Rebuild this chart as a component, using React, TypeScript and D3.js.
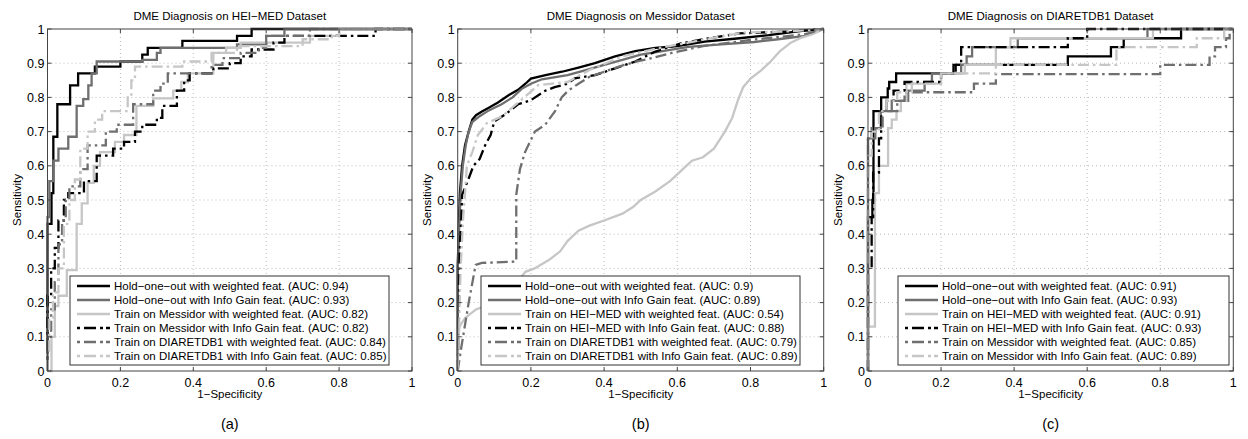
import React from "react";
import * as d3 from "d3";

// ---------- data ----------
const titles = [
  "DME Diagnosis on HEI\u2212MED Dataset",
  "DME Diagnosis on Messidor Dataset",
  "DME Diagnosis on DIARETDB1 Dataset",
];
const panelTags = ["(a)", "(b)", "(c)"];
const xTicks = [0, 0.2, 0.4, 0.6, 0.8, 1];
const yTicks = [0, 0.1, 0.2, 0.3, 0.4, 0.5, 0.6, 0.7, 0.8, 0.9, 1];

const legendA = [
  "Hold\u2212one\u2212out with weighted feat. (AUC: 0.94)",
  "Hold\u2212one\u2212out with Info Gain feat. (AUC: 0.93)",
  "Train on Messidor with weighted feat. (AUC: 0.82)",
  "Train on Messidor with Info Gain feat. (AUC: 0.82)",
  "Train on DIARETDB1 with weighted feat. (AUC: 0.84)",
  "Train on DIARETDB1 with Info Gain feat. (AUC: 0.85)",
];
const legendB = [
  "Hold\u2212one\u2212out with weighted feat. (AUC: 0.9)",
  "Hold\u2212one\u2212out with Info Gain feat. (AUC: 0.89)",
  "Train on HEI\u2212MED with weighted feat. (AUC: 0.54)",
  "Train on HEI\u2212MED with Info Gain feat. (AUC: 0.88)",
  "Train on DIARETDB1 with weighted feat. (AUC: 0.79)",
  "Train on DIARETDB1 with Info Gain feat. (AUC: 0.89)",
];
const legendC = [
  "Hold\u2212one\u2212out with weighted feat. (AUC: 0.91)",
  "Hold\u2212one\u2212out with Info Gain feat. (AUC: 0.93)",
  "Train on HEI\u2212MED with weighted feat. (AUC: 0.91)",
  "Train on HEI\u2212MED with Info Gain feat. (AUC: 0.93)",
  "Train on Messidor with weighted feat. (AUC: 0.85)",
  "Train on Messidor with Info Gain feat. (AUC: 0.89)",
];

// Panel (a): HEI-MED
const aHoldWeighted = [[0,0],[0,0.43],[0.011,0.43],[0.011,0.52],[0.016,0.52],[0.016,0.685],[0.027,0.685],[0.027,0.78],[0.062,0.78],[0.062,0.835],[0.084,0.835],[0.084,0.87],[0.13,0.87],[0.13,0.89],[0.2,0.89],[0.2,0.905],[0.26,0.905],[0.26,0.925],[0.275,0.925],[0.275,0.945],[0.37,0.945],[0.37,0.965],[0.52,0.965],[0.52,0.98],[0.56,0.98],[0.56,1],[1,1]];
const aHoldInfo = [[0,0],[0,0.45],[0.005,0.45],[0.005,0.555],[0.016,0.555],[0.016,0.615],[0.03,0.615],[0.03,0.65],[0.057,0.65],[0.057,0.685],[0.08,0.685],[0.08,0.775],[0.098,0.775],[0.098,0.795],[0.112,0.795],[0.112,0.835],[0.121,0.835],[0.121,0.87],[0.135,0.87],[0.135,0.905],[0.26,0.905],[0.26,0.91],[0.3,0.91],[0.3,0.93],[0.31,0.93],[0.31,0.945],[0.52,0.945],[0.52,0.955],[0.6,0.955],[0.6,0.98],[0.65,0.98],[0.65,1],[1,1]];
const aOtherWeighted = [[0,0],[0.011,0],[0.011,0.1],[0.02,0.1],[0.02,0.19],[0.03,0.19],[0.03,0.22],[0.053,0.22],[0.053,0.295],[0.08,0.295],[0.08,0.43],[0.094,0.43],[0.094,0.49],[0.11,0.49],[0.11,0.55],[0.127,0.55],[0.127,0.6],[0.144,0.6],[0.144,0.64],[0.185,0.64],[0.185,0.67],[0.21,0.67],[0.21,0.69],[0.244,0.69],[0.244,0.775],[0.29,0.775],[0.29,0.797],[0.345,0.797],[0.345,0.82],[0.367,0.82],[0.367,0.845],[0.385,0.845],[0.385,0.87],[0.455,0.87],[0.455,0.93],[0.49,0.93],[0.49,0.945],[0.53,0.945],[0.53,0.96],[0.72,0.96],[0.72,0.98],[0.8,0.98],[0.8,1],[1,1]];
const aOtherInfo = [[0,0],[0,0.22],[0.01,0.22],[0.01,0.3],[0.02,0.3],[0.02,0.36],[0.03,0.36],[0.03,0.44],[0.045,0.44],[0.045,0.5],[0.057,0.5],[0.057,0.52],[0.1,0.52],[0.1,0.555],[0.135,0.555],[0.135,0.63],[0.18,0.63],[0.18,0.65],[0.21,0.65],[0.21,0.67],[0.24,0.67],[0.24,0.7],[0.26,0.7],[0.26,0.72],[0.3,0.72],[0.3,0.74],[0.315,0.74],[0.315,0.775],[0.355,0.775],[0.355,0.82],[0.375,0.82],[0.375,0.85],[0.39,0.85],[0.39,0.87],[0.455,0.87],[0.455,0.885],[0.5,0.885],[0.5,0.9],[0.53,0.9],[0.53,0.92],[0.56,0.92],[0.56,0.94],[0.62,0.94],[0.62,0.96],[0.65,0.96],[0.65,0.98],[0.9,0.98],[0.9,1],[1,1]];
const aThirdWeighted = [[0,0],[0,0.1],[0.01,0.1],[0.01,0.18],[0.02,0.18],[0.02,0.26],[0.03,0.26],[0.03,0.37],[0.04,0.37],[0.04,0.44],[0.05,0.44],[0.05,0.5],[0.06,0.5],[0.06,0.54],[0.09,0.54],[0.09,0.59],[0.11,0.59],[0.11,0.66],[0.16,0.66],[0.16,0.7],[0.19,0.7],[0.19,0.72],[0.235,0.72],[0.235,0.78],[0.29,0.78],[0.29,0.82],[0.31,0.82],[0.31,0.84],[0.33,0.84],[0.33,0.87],[0.45,0.87],[0.45,0.895],[0.48,0.895],[0.48,0.915],[0.53,0.915],[0.53,0.93],[0.58,0.93],[0.58,0.945],[0.6,0.945],[0.6,0.98],[0.72,0.98],[0.72,1],[1,1]];
const aThirdInfo = [[0,0],[0,0.06],[0.005,0.06],[0.005,0.15],[0.015,0.15],[0.015,0.23],[0.03,0.23],[0.03,0.3],[0.045,0.3],[0.045,0.43],[0.06,0.43],[0.06,0.5],[0.075,0.5],[0.075,0.56],[0.09,0.56],[0.09,0.65],[0.11,0.65],[0.11,0.7],[0.13,0.7],[0.13,0.735],[0.15,0.735],[0.15,0.76],[0.22,0.76],[0.22,0.8],[0.23,0.8],[0.23,0.85],[0.24,0.85],[0.24,0.89],[0.37,0.89],[0.37,0.905],[0.45,0.905],[0.45,0.93],[0.52,0.93],[0.52,0.95],[0.7,0.95],[0.7,0.97],[0.78,0.97],[0.78,0.98],[0.8,0.98],[0.8,1],[1,1]];

// Panel (b): Messidor
const bHoldWeighted = [[0,0],[0,0.3],[0.003,0.42],[0.006,0.52],[0.012,0.6],[0.02,0.66],[0.03,0.7],[0.04,0.735],[0.05,0.748],[0.065,0.758],[0.085,0.77],[0.11,0.785],[0.14,0.807],[0.165,0.822],[0.185,0.84],[0.2,0.855],[0.24,0.865],[0.285,0.875],[0.33,0.887],[0.375,0.9],[0.43,0.92],[0.485,0.935],[0.54,0.945],[0.6,0.95],[0.675,0.963],[0.77,0.973],[0.85,0.982],[0.935,0.994],[1,1]];
const bHoldInfo = [[0,0],[0,0.3],[0.004,0.42],[0.008,0.52],[0.014,0.6],[0.022,0.66],[0.03,0.7],[0.04,0.728],[0.06,0.745],[0.085,0.762],[0.12,0.78],[0.15,0.8],[0.175,0.825],[0.2,0.84],[0.23,0.853],[0.3,0.865],[0.35,0.88],[0.4,0.895],[0.45,0.91],[0.5,0.925],[0.56,0.935],[0.63,0.948],[0.72,0.955],[0.81,0.962],[0.875,0.97],[0.95,0.98],[1,1]];
const bOtherWeighted = [[0,0],[0.002,0.1],[0.005,0.13],[0.02,0.155],[0.05,0.18],[0.1,0.2],[0.14,0.235],[0.17,0.27],[0.185,0.29],[0.21,0.3],[0.25,0.325],[0.28,0.35],[0.3,0.38],[0.33,0.41],[0.36,0.425],[0.4,0.44],[0.45,0.46],[0.48,0.48],[0.5,0.5],[0.54,0.525],[0.58,0.555],[0.61,0.585],[0.64,0.615],[0.67,0.625],[0.7,0.65],[0.73,0.7],[0.75,0.74],[0.765,0.79],[0.78,0.83],[0.8,0.855],[0.83,0.88],[0.855,0.905],[0.88,0.935],[0.91,0.96],[0.94,0.975],[0.97,0.985],[1,1]];
const bOtherInfo = [[0,0],[0.002,0.1],[0.005,0.35],[0.01,0.45],[0.012,0.515],[0.03,0.563],[0.043,0.6],[0.06,0.62],[0.075,0.66],[0.09,0.69],[0.1,0.73],[0.13,0.75],[0.165,0.78],[0.2,0.792],[0.24,0.82],[0.265,0.83],[0.3,0.84],[0.32,0.856],[0.375,0.865],[0.43,0.885],[0.485,0.905],[0.54,0.934],[0.61,0.958],[0.685,0.973],[0.77,0.987],[0.9,0.993],[1,1]];
const bThirdWeighted = [[0,0],[0.01,0.07],[0.03,0.2],[0.049,0.31],[0.066,0.316],[0.16,0.32],[0.16,0.515],[0.17,0.59],[0.184,0.64],[0.211,0.7],[0.239,0.72],[0.266,0.76],[0.284,0.8],[0.302,0.82],[0.33,0.84],[0.36,0.86],[0.4,0.875],[0.455,0.895],[0.49,0.905],[0.53,0.915],[0.585,0.93],[0.67,0.95],[0.8,0.968],[0.95,0.985],[1,1]];
const bThirdInfo = [[0,0],[0.003,0.1],[0.008,0.3],[0.015,0.45],[0.02,0.52],[0.025,0.6],[0.04,0.64],[0.055,0.69],[0.08,0.725],[0.12,0.744],[0.16,0.78],[0.2,0.817],[0.22,0.836],[0.3,0.845],[0.36,0.88],[0.45,0.92],[0.54,0.942],[0.63,0.96],[0.7,0.975],[0.785,0.99],[0.9,0.993],[1,1]];

// Panel (c): DIARETDB1
const cHoldWeighted = [[0,0],[0,0.45],[0.012,0.45],[0.012,0.5],[0.015,0.5],[0.015,0.76],[0.036,0.76],[0.036,0.8],[0.054,0.8],[0.054,0.826],[0.058,0.826],[0.058,0.845],[0.077,0.845],[0.077,0.87],[0.234,0.87],[0.234,0.895],[0.547,0.895],[0.547,0.92],[0.665,0.92],[0.665,0.947],[0.7,0.947],[0.7,0.973],[0.857,0.973],[0.857,1],[1,1]];
const cHoldInfo = [[0,0],[0,0.68],[0.02,0.68],[0.02,0.71],[0.035,0.71],[0.035,0.76],[0.065,0.76],[0.065,0.79],[0.11,0.79],[0.11,0.82],[0.155,0.82],[0.155,0.845],[0.175,0.845],[0.175,0.87],[0.255,0.87],[0.255,0.895],[0.27,0.895],[0.27,0.92],[0.285,0.92],[0.285,0.947],[0.41,0.947],[0.41,0.973],[0.765,0.973],[0.765,1],[1,1]];
const cOtherWeighted = [[0,0],[0,0.13],[0.019,0.13],[0.019,0.52],[0.03,0.52],[0.03,0.6],[0.055,0.6],[0.055,0.71],[0.065,0.71],[0.065,0.735],[0.078,0.735],[0.078,0.76],[0.09,0.76],[0.09,0.79],[0.105,0.79],[0.105,0.84],[0.2,0.84],[0.2,0.87],[0.265,0.87],[0.265,0.895],[0.35,0.895],[0.35,0.947],[0.39,0.947],[0.39,0.973],[0.78,0.973],[0.78,1],[1,1]];
const cOtherInfo = [[0,0],[0,0.3],[0.01,0.3],[0.01,0.45],[0.014,0.45],[0.014,0.58],[0.03,0.58],[0.03,0.68],[0.036,0.68],[0.036,0.76],[0.05,0.76],[0.05,0.79],[0.07,0.79],[0.07,0.82],[0.1,0.82],[0.1,0.845],[0.2,0.845],[0.2,0.87],[0.24,0.87],[0.24,0.895],[0.255,0.895],[0.255,0.947],[0.547,0.947],[0.547,0.973],[0.6,0.973],[0.6,1],[1,1]];
const cThirdWeighted = [[0,0],[0,0.68],[0.01,0.68],[0.01,0.71],[0.04,0.71],[0.04,0.76],[0.08,0.76],[0.08,0.79],[0.1,0.79],[0.1,0.815],[0.29,0.815],[0.29,0.84],[0.35,0.84],[0.35,0.868],[0.8,0.868],[0.8,0.895],[0.935,0.895],[0.935,0.92],[0.95,0.92],[0.95,0.947],[0.98,0.947],[0.98,0.973],[0.99,0.973],[0.99,1],[1,1]];
const cThirdInfo = [[0,0],[0,0.63],[0.01,0.63],[0.01,0.7],[0.03,0.7],[0.03,0.76],[0.05,0.76],[0.05,0.79],[0.08,0.79],[0.08,0.815],[0.12,0.815],[0.12,0.84],[0.2,0.84],[0.2,0.87],[0.35,0.87],[0.35,0.895],[0.68,0.895],[0.68,0.947],[0.9,0.947],[0.9,0.973],[0.975,0.973],[0.975,1],[1,1]];

// ---------- layout / style ----------
const FONT = "'Liberation Sans', Arial, Helvetica, sans-serif";
const Y_TOP = 29;
const Y_BOTTOM = 371;
const DASHDOT = "11,4,2.5,4";
const seriesStyles = [
  { color: "#000000", dash: null },
  { color: "#6f6f6f", dash: null },
  { color: "#c6c6c6", dash: null },
  { color: "#000000", dash: DASHDOT },
  { color: "#6f6f6f", dash: DASHDOT },
  { color: "#c6c6c6", dash: DASHDOT },
];

const panels = [
  { x0: 47.5, x1: 412, legL: 70, legR: 389, yLabX: 17,
    curves: [aHoldWeighted, aHoldInfo, aOtherWeighted, aOtherInfo, aThirdWeighted, aThirdInfo], labels: legendA },
  { x0: 457.7, x1: 823.7, legL: 481, legR: 800, yLabX: 427,
    curves: [bHoldWeighted, bHoldInfo, bOtherWeighted, bOtherInfo, bThirdWeighted, bThirdInfo], labels: legendB },
  { x0: 868, x1: 1233.3, legL: 898, legR: 1229, yLabX: 838,
    curves: [cHoldWeighted, cHoldInfo, cOtherWeighted, cOtherInfo, cThirdWeighted, cThirdInfo], labels: legendC },
];

function Panel({ p, i }: { p: any; i: number }) {
  const x = d3.scaleLinear().domain([0, 1]).range([p.x0, p.x1]);
  const y = d3.scaleLinear().domain([0, 1]).range([Y_BOTTOM, Y_TOP]);
  const line = d3.line<number[]>().x((d) => x(d[0])).y((d) => y(d[1]));
  const axisColor = "#444";
  const legTop = 276;
  const legBottom = 365;
  const rowH = 14;
  const firstRow = 286;
  const cx = (p.x0 + p.x1) / 2;
  const cy = (Y_TOP + Y_BOTTOM) / 2;
  return (
    <g>
      {xTicks.slice(1, -1).map((t) => (
        <line key={"gx" + t} x1={x(t)} x2={x(t)} y1={Y_TOP} y2={Y_BOTTOM} stroke="#bcbcbc" strokeWidth={1} strokeDasharray="1,3" />
      ))}
      {yTicks.slice(1, -1).map((t) => (
        <line key={"gy" + t} x1={p.x0} x2={p.x1} y1={y(t)} y2={y(t)} stroke="#bcbcbc" strokeWidth={1} strokeDasharray="1,3" />
      ))}
      {p.curves.map((c: number[][], k: number) => (
        <path key={"c" + k} d={line(c) || ""} fill="none" stroke={seriesStyles[k].color} strokeWidth={2.3}
          strokeDasharray={seriesStyles[k].dash || undefined} strokeLinejoin="miter" />
      ))}
      <rect x={p.x0} y={Y_TOP} width={p.x1 - p.x0} height={Y_BOTTOM - Y_TOP} fill="none" stroke={axisColor} strokeWidth={1} />
      {xTicks.map((t) => (
        <g key={"tx" + t}>
          <line x1={x(t)} x2={x(t)} y1={Y_BOTTOM} y2={Y_BOTTOM - 4} stroke={axisColor} />
          <line x1={x(t)} x2={x(t)} y1={Y_TOP} y2={Y_TOP + 4} stroke={axisColor} />
          <text x={x(t)} y={386.5} textAnchor="middle" fontSize={12.5} fontFamily={FONT} fill="#000">{String(t)}</text>
        </g>
      ))}
      {yTicks.map((t) => (
        <g key={"ty" + t}>
          <line x1={p.x0} x2={p.x0 + 4} y1={y(t)} y2={y(t)} stroke={axisColor} />
          <line x1={p.x1} x2={p.x1 - 4} y1={y(t)} y2={y(t)} stroke={axisColor} />
          <text x={p.x0 - 3} y={y(t) + 4.5} textAnchor="end" fontSize={12.5} fontFamily={FONT} fill="#000">{String(t)}</text>
        </g>
      ))}
      <text x={cx} y={19.5} textAnchor="middle" fontSize={11.5} fontFamily={FONT} fill="#000">{titles[i]}</text>
      <text x={cx} y={398} textAnchor="middle" fontSize={11.5} fontFamily={FONT} fill="#000">{"1\u2212Specificity"}</text>
      <text x={p.yLabX} y={cy} textAnchor="middle" fontSize={11.5} fontFamily={FONT} fill="#000"
        transform={`rotate(-90 ${p.yLabX} ${cy})`} dy="0.35em">Sensitivity</text>
      <text x={cx} y={428.5} textAnchor="middle" fontSize={14.5} fontFamily={FONT} fill="#000">{panelTags[i]}</text>
      <rect x={p.legL} y={legTop} width={p.legR - p.legL} height={legBottom - legTop} fill="#fff" stroke="#333" strokeWidth={1} />
      {p.labels.map((lab: string, k: number) => {
        const ry = firstRow + k * rowH;
        return (
          <g key={"l" + k}>
            <line x1={p.legL + 7} x2={p.legL + 40} y1={ry} y2={ry} stroke={seriesStyles[k].color} strokeWidth={2.3}
              strokeDasharray={seriesStyles[k].dash ? "3,4,12,4,3" : undefined} />
            <text x={p.legL + 44} y={ry + 4} fontSize={11.5} fontFamily={FONT} fill="#000">{lab}</text>
          </g>
        );
      })}
    </g>
  );
}

export default function App() {
  return (
    <div style={{ position: "absolute", left: 0, top: 0 }}>
      <svg width={1248} height={439} style={{ display: "block", background: "#fff" }}>
        {panels.map((p, i) => (
          <Panel key={i} p={p} i={i} />
        ))}
      </svg>
    </div>
  );
}
